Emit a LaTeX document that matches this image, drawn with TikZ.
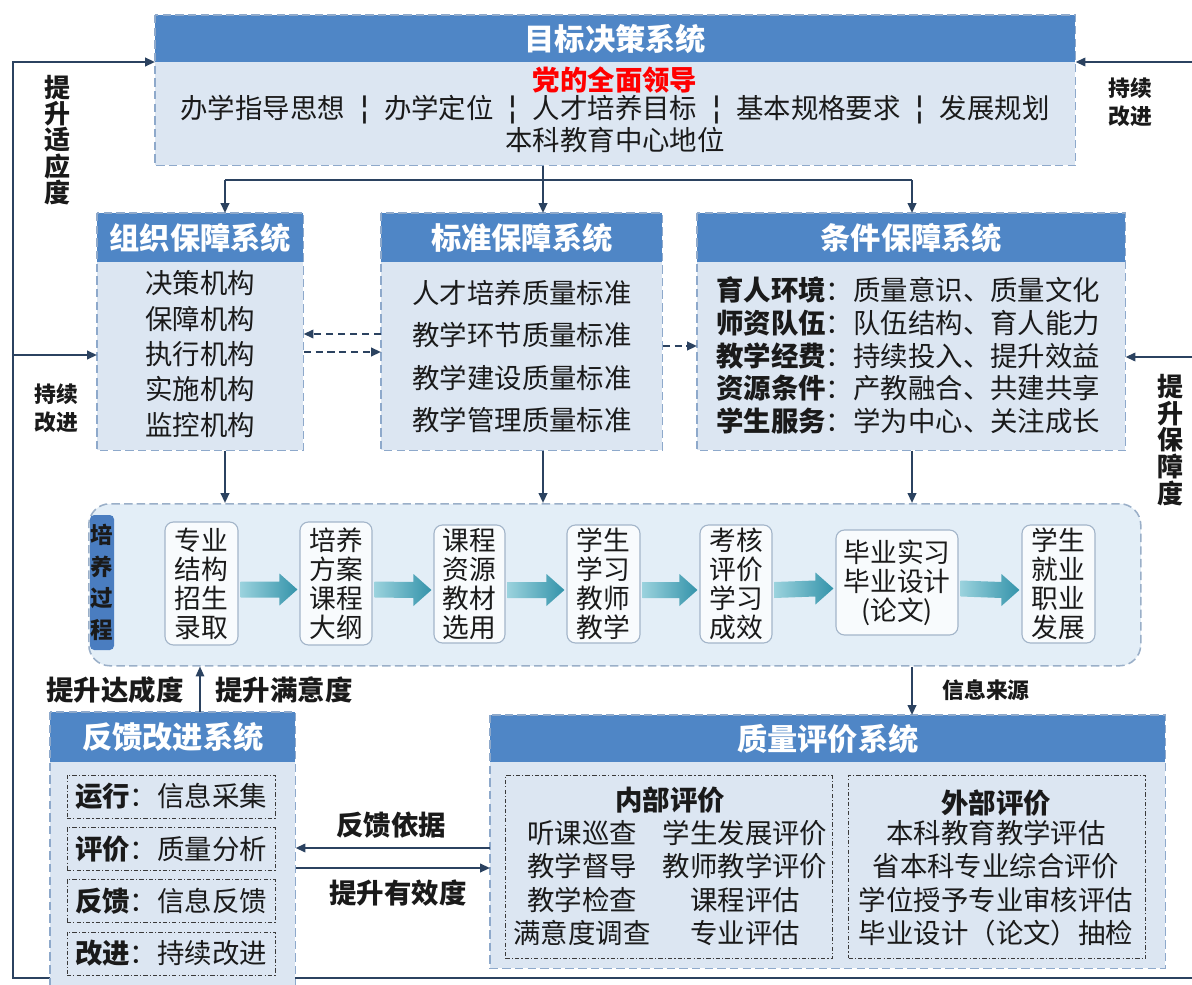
\documentclass[tikz,border=0pt]{standalone}
\usepackage{fontspec}
\setmainfont{Noto Sans CJK SC}
\newfontfamily\dvfont{DejaVu Sans}
\usetikzlibrary{arrows.meta,calc}
\pgfdeclarelayer{bg}
\pgfsetlayers{bg,main}
\definecolor{hdr}{HTML}{4F86C6}
\definecolor{bodyfill}{HTML}{DCE6F2}
\definecolor{bord}{HTML}{8EA9CB}
\definecolor{procfill}{HTML}{E3EEF7}
\definecolor{procbord}{HTML}{9AAFC8}
\definecolor{pfill}{HTML}{F8FBFD}
\definecolor{pbord}{HTML}{A3B5C9}
\definecolor{labfill}{HTML}{4A7DC0}
\definecolor{conncol}{HTML}{2B4260}
\definecolor{txtc}{HTML}{1A1A1A}
\definecolor{innerc}{HTML}{3A3A3A}
\definecolor{arrL}{HTML}{9AD2DD}
\definecolor{arrR}{HTML}{3493AA}
\def\PXU{0.025cm}
\newcommand\fsBody{\fontsize{19.5pt}{24pt}\selectfont}
\newcommand\fsHdr{\fontsize{21.5pt}{26pt}\selectfont}
\newcommand\sepbar{\hspace{10pt}{\dvfont\fontsize{23pt}{24pt}\selectfont ¦}\hspace{10pt}}
\newcommand\sysbox[7]{%
  \node[sysbody,minimum width=#4*\PXU,minimum height=#5*\PXU] (#1) at (#2,#3) {};
  \node[syshdr,minimum width=#4*\PXU,minimum height=#6*\PXU] (#1h) at (#1.north) {#7};
  \draw[sysbord] (#1.north west) rectangle (#1.south east);}
\newcommand\blk[2]{%
  \path[left color=arrL,right color=arrR]
    ($(#1.east)+(2,-2)$) -- ($(#2.west)+(-20,-2)$) -- ($(#2.west)+(-20,-10)$)
    -- ($(#2.west)+(-2,6)$) -- ($(#2.west)+(-20,22)$) -- ($(#2.west)+(-20,14)$)
    -- ($(#1.east)+(2,14)$) -- cycle;}
\begin{document}
\begin{tikzpicture}[x=0.025cm,y=-0.025cm,
  conn/.style={draw=conncol,line width=1.5pt,-{Triangle[length=7pt,width=6pt]}},
  plain/.style={draw=conncol,line width=1.5pt},
  dconn/.style={conn,dash pattern=on 5pt off 3.5pt},
  sysbody/.style={fill=bodyfill,inner sep=0pt,anchor=north west},
  syshdr/.style={fill=hdr,inner sep=0pt,anchor=north,text=white,font=\fsHdr\bfseries},
  sysbord/.style={draw=bord,line width=1.1pt,dash pattern=on 6pt off 3pt},
  txt/.style={inner sep=0pt,text=txtc,align=center,font=\fsBody},
  blab/.style={inner sep=0pt,text=txtc,align=center,font=\fsBody\bfseries},
  pbox/.style={draw=pbord,fill=pfill,rounded corners=6pt,inner sep=0pt,align=center,
     text=txtc,line width=0.8pt,font={\fontsize{19pt}{20.6pt}\selectfont}},
  ibox/.style={draw=innerc,line width=0.7pt,inner sep=0pt,
     dash pattern=on 3pt off 1.5pt on 0.8pt off 1.5pt}]
\useasboundingbox (0,0) rectangle (1192,985);

% ---------- system boxes ----------
\sysbox{top}{155}{15}{920}{150}{47}{目标决策系统}
\sysbox{org}{97}{213}{206}{237}{49}{组织保障系统}
\sysbox{std}{381}{213}{281}{237}{49}{标准保障系统}
\sysbox{cond}{697}{213}{428}{237}{49}{条件保障系统}
\sysbox{fb}{50}{712}{245}{280}{50}{反馈改进系统}
\sysbox{ev}{490}{715}{675}{253}{47}{质量评价系统}

% top box text
\node[blab,text=red] (t1) at (615,80) {党的全面领导};
\node[txt] (t2) at (615,110) {办学指导思想\sepbar 办学定位\sepbar 人才培养目标\sepbar 基本规格要求\sepbar 发展规划};
\node[txt] (t3) at (615,140) {本科教育中心地位};

% org text
\node[txt,font={\fontsize{19.5pt}{25.2pt}\selectfont}] (orgt) at (200,354)
  {决策机构\\保障机构\\执行机构\\实施机构\\监控机构};
% std text
\node[txt,font={\fontsize{19.5pt}{30pt}\selectfont}] (stdt) at (522,356.5)
  {人才培养质量标准\\教学环节质量标准\\教学建设质量标准\\教学管理质量标准};
% cond text
\node[txt,align=left,anchor=west,font={\fontsize{19.5pt}{23.3pt}\selectfont}] (condt) at (716,355.5)
  {\textbf{育人环境}：质量意识、质量文化\\
   \textbf{师资队伍}：队伍结构、育人能力\\
   \textbf{教学经费}：持续投入、提升效益\\
   \textbf{资源条件}：产教融合、共建共享\\
   \textbf{学生服务}：学为中心、关注成长};

% ---------- process ----------
\node[draw=procbord,fill=procfill,rounded corners=15pt,line width=1.1pt,
  dash pattern=on 6pt off 3pt,inner sep=0pt,anchor=north west,
  minimum width=1052*\PXU,minimum height=162*\PXU] (proc) at (88,503) {};
\node[fill=labfill,rounded corners=3pt,inner sep=0pt,text=txtc,align=center,
  minimum width=24*\PXU,minimum height=135*\PXU,
  font={\fontsize{16pt}{22.5pt}\selectfont\bfseries}] (plab) at (102,582.5)
  {培\\养\\过\\程};
\node[pbox,minimum width=73*\PXU,minimum height=123*\PXU] (p1) at (201.5,583.5) {专业\\结构\\招生\\录取};
\node[pbox,minimum width=72*\PXU,minimum height=123*\PXU] (p2) at (336,583.5) {培养\\方案\\课程\\大纲};
\node[pbox,minimum width=71*\PXU,minimum height=118*\PXU] (p3) at (469.5,584) {课程\\资源\\教材\\选用};
\node[pbox,minimum width=73*\PXU,minimum height=118*\PXU] (p4) at (603.5,584) {学生\\学习\\教师\\教学};
\node[pbox,minimum width=72*\PXU,minimum height=118*\PXU] (p5) at (736,584) {考核\\评价\\学习\\成效};
\node[pbox,minimum width=122*\PXU,minimum height=105*\PXU] (p6) at (897,582.5) {毕业实习\\毕业设计\\(论文)};
\node[pbox,minimum width=73*\PXU,minimum height=118*\PXU] (p7) at (1058.5,584) {学生\\就业\\职业\\发展};
\blk{p1}{p2}\blk{p2}{p3}\blk{p3}{p4}\blk{p4}{p5}\blk{p5}{p6}\blk{p6}{p7}

% ---------- feedback inner boxes ----------
\node[ibox,minimum width=208*\PXU,minimum height=43*\PXU,txt] (f1) at (171,796.5) {\textbf{运行}：信息采集};
\node[ibox,minimum width=208*\PXU,minimum height=43*\PXU,txt] (f2) at (171,849) {\textbf{评价}：质量分析};
\node[ibox,minimum width=208*\PXU,minimum height=43*\PXU,txt] (f3) at (171,901) {\textbf{反馈}：信息反馈};
\node[ibox,minimum width=208*\PXU,minimum height=43*\PXU,txt] (f4) at (171,953.5) {\textbf{改进}：持续改进};

% ---------- evaluation inner boxes ----------
\node[ibox,anchor=north west,minimum width=327*\PXU,minimum height=183*\PXU] (ein) at (505,775) {};
\node[ibox,anchor=north west,minimum width=297*\PXU,minimum height=183*\PXU] (eex) at (848,775) {};
\node[blab] (einT) at (670,800) {内部评价};
\node[txt] (e11) at (582,833) {听课巡查};
\node[txt] (e12) at (582,866) {教学督导};
\node[txt] (e13) at (582,900) {教学检查};
\node[txt] (e14) at (582,933) {满意度调查};
\node[txt] (e21) at (745,833) {学生发展评价};
\node[txt] (e22) at (745,866) {教师教学评价};
\node[txt] (e23) at (745,900) {课程评估};
\node[txt] (e24) at (745,933) {专业评估};
\node[blab] (eexT) at (996,803) {外部评价};
\node[txt] (x1) at (996,833) {本科教育教学评估};
\node[txt] (x2) at (996,866) {省本科专业综合评价};
\node[txt] (x3) at (996,900) {学位授予专业审核评估};
\node[txt] (x4) at (996,933) {毕业设计（论文）抽检};

% ---------- connectors ----------
\coordinate (L1) at (13,62);
\coordinate (L2) at (13,355);
\coordinate (LB) at (13,978);
\coordinate (RB) at (1192,978);
\coordinate (R1) at (1192,62);
\coordinate (R2) at (1192,357);
\begin{pgfonlayer}{bg}
\draw[conn] (RB) -- (LB) -- (L1) -- (top.west |- L1);
\end{pgfonlayer}
\draw[conn] (L2) -- (org.west |- L2);
\draw[conn] (R1) -- (top.east |- R1);
\draw[conn] (R2) -- (cond.east |- R2);

\coordinate (xa) at (225,180);
\coordinate (xb) at (543,180);
\coordinate (xc) at (912,180);
\draw[conn] (top.south -| xb) -- (std.north -| xb);
\draw[plain] (xa) -- (xc);
\draw[conn] (xa) -- (org.north -| xa);
\draw[conn] (xc) -- (cond.north -| xc);

\draw[conn] (org.south -| xa) -- (proc.north -| xa);
\draw[conn] (std.south -| xb) -- (proc.north -| xb);
\draw[conn] (cond.south -| xc) -- (proc.north -| xc);

\coordinate (d1) at (0,334);
\coordinate (d2) at (0,352);
\coordinate (d3) at (0,346);
\draw[dconn] (std.west |- d1) -- (org.east |- d1);
\draw[dconn] (org.east |- d2) -- (std.west |- d2);
\draw[dconn] (std.east |- d3) -- (cond.west |- d3);

\coordinate (xu) at (200,0);
\draw[conn,line width=1.1pt] (fb.north -| xu) -- (proc.south -| xu);
\draw[conn] (proc.south -| xc) -- (ev.north -| xc);

\coordinate (y1) at (0,848);
\coordinate (y2) at (0,868);
\draw[conn] (ev.west |- y1) -- (fb.east |- y1);
\draw[conn] (fb.east |- y2) -- (ev.west |- y2);

% ---------- labels ----------
\node[inner sep=0pt,text=txtc,align=center,font={\fontsize{18.5pt}{18.6pt}\selectfont\bfseries}] (lA) at (58,140) {提\\升\\适\\应\\度};
\node[inner sep=0pt,text=txtc,align=center,font={\fontsize{15.5pt}{20pt}\selectfont\bfseries}] (lB) at (56,408) {持续\\改进};
\node[inner sep=0pt,text=txtc,align=center,font={\fontsize{15.5pt}{20pt}\selectfont\bfseries}] (lC) at (1130,102) {持续\\改进};
\node[inner sep=0pt,text=txtc,align=center,font={\fontsize{18.5pt}{19pt}\selectfont\bfseries}] (lD) at (1170,440) {提\\升\\保\\障\\度};
\node[blab] (lE) at (115,690) {提升达成度};
\node[blab] (lF) at (284,690) {提升满意度};
\node[inner sep=0pt,text=txtc,font={\fontsize{15.5pt}{18pt}\selectfont\bfseries}] (lG) at (986,690) {信息来源};
\node[blab] (lH) at (391,825) {反馈依据};
\node[blab] (lI) at (398,893) {提升有效度};
\end{tikzpicture}
\end{document}
